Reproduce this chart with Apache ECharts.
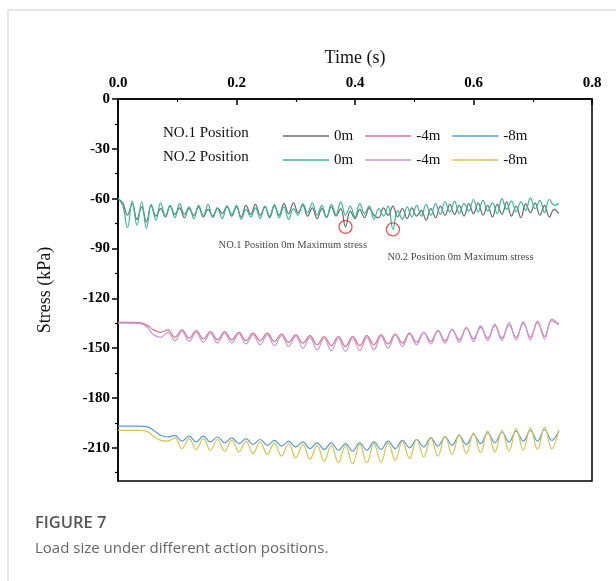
<!DOCTYPE html>
<html>
<head>
<meta charset="utf-8">
<script src="https://cdn.jsdelivr.net/npm/echarts@6/dist/echarts.min.js"></script>
<style>
  html, body { margin: 0; padding: 0; background: #fff; }
  #chart { width: 616px; height: 581px; }
</style>
</head>
<body>
<div id="chart"></div>
<script>
// time axis (s)
let timeFine = []    // 0m curves, 0.008 s step
for (let i = 0; i < 94; i++) timeFine.push(+(i * 0.008).toFixed(3))
let timeCoarse = []  // -4m / -8m curves, 0.012 s step
for (let i = 0; i < 63; i++) timeCoarse.push(+(i * 0.012).toFixed(3))

let no1_0m = [
  -60.0, -62.5, -70.0, -63.0, -72.5, -65.0, -74.0, -64.0, -70.5, -66.0,
  -71.0, -64.5, -69.5, -65.5, -71.5, -66.0, -70.0, -65.0, -71.0, -66.5,
  -70.5, -65.5, -69.0, -64.5, -70.5, -65.0, -71.0, -64.0, -69.5, -63.5,
  -70.0, -65.0, -71.5, -64.5, -70.0, -63.0, -69.0, -62.5, -68.5, -64.0,
  -70.5, -65.5, -72.0, -66.0, -71.0, -65.0, -70.5, -66.0, -77.0, -67.5,
  -72.0, -66.5, -71.5, -65.5, -70.0, -71.5, -65.5, -70.0, -64.5, -71.0,
  -66.0, -72.0, -65.5, -70.5, -67.0, -73.0, -66.0, -71.5, -64.5, -70.0,
  -63.5, -69.5, -64.0, -70.5, -63.0, -69.0, -62.5, -70.0, -64.0, -71.0,
  -63.5, -69.5, -62.0, -70.5, -64.5, -71.5, -63.0, -68.5, -62.5, -70.0,
  -64.0, -71.0, -66.5, -69.0
]
let no2_0m = [
  -60.0, -64.0, -77.5, -61.5, -76.0, -62.0, -78.0, -63.5, -73.0, -62.5,
  -70.5, -64.0, -71.5, -63.0, -69.5, -65.0, -72.0, -64.0, -70.0, -63.5,
  -71.5, -66.0, -72.0, -65.0, -69.5, -64.0, -72.5, -66.5, -71.0, -65.5,
  -72.0, -64.5, -70.5, -63.5, -71.5, -65.0, -72.5, -66.0, -70.0, -63.0,
  -68.5, -62.5, -70.0, -64.0, -71.5, -63.5, -69.5, -62.0, -70.0, -64.5,
  -71.0, -63.0, -69.0, -64.5, -72.5, -66.0, -70.5, -64.5, -78.5, -67.0,
  -72.5, -65.0, -71.0, -64.0, -70.5, -63.5, -70.0, -63.0, -69.5, -62.0,
  -68.0, -61.5, -69.0, -63.0, -67.5, -60.5, -68.0, -61.0, -67.5, -62.5,
  -69.0, -60.0, -66.5, -61.5, -68.0, -62.0, -67.0, -59.5, -66.0, -61.0,
  -68.5, -60.5, -64.0, -63.0
]
let no1_4m = [
  -134.5, -134.5, -134.5, -134.7, -136.0, -139.0, -140.5, -139.0, -143.5, -139.0,
  -144.0, -139.5, -144.5, -140.0, -145.0, -140.0, -145.0, -140.5, -145.5, -141.0,
  -145.5, -141.0, -146.0, -141.5, -146.5, -142.0, -147.0, -142.5, -148.0, -143.0,
  -148.5, -143.0, -149.0, -143.0, -148.5, -142.5, -148.0, -142.0, -147.5, -141.5,
  -147.0, -141.0, -146.5, -140.5, -146.0, -139.5, -145.5, -139.0, -145.0, -138.0,
  -144.5, -137.5, -144.0, -136.5, -144.0, -136.0, -143.5, -135.0, -143.5, -134.5,
  -143.0, -133.5, -136.0
]
let no2_4m = [
  -135.0, -135.0, -135.0, -135.3, -137.0, -142.0, -143.5, -140.5, -145.5, -140.0,
  -146.0, -140.5, -146.5, -141.0, -147.0, -141.0, -147.0, -141.5, -147.5, -142.0,
  -148.0, -142.0, -148.5, -142.5, -149.0, -143.0, -150.0, -143.5, -151.0, -144.0,
  -151.5, -144.0, -152.0, -144.0, -151.5, -143.5, -151.0, -143.0, -150.0, -142.0,
  -149.0, -141.5, -148.0, -140.5, -147.5, -139.5, -147.0, -138.5, -146.5, -137.5,
  -146.0, -136.5, -145.5, -135.5, -145.5, -134.5, -145.0, -134.0, -145.0, -133.5,
  -144.5, -132.5, -135.5
]
let no1_8m = [
  -197.0, -197.0, -197.0, -197.0, -197.3, -199.5, -202.5, -203.5, -202.5, -206.0,
  -203.0, -206.5, -203.0, -206.5, -203.5, -207.0, -204.0, -207.5, -204.5, -208.0,
  -205.0, -208.5, -205.5, -209.0, -206.0, -209.5, -206.5, -210.5, -207.0, -211.0,
  -207.0, -211.5, -207.5, -212.0, -207.0, -211.5, -206.5, -211.0, -206.0, -210.5,
  -205.5, -210.0, -205.0, -209.5, -204.0, -209.0, -203.5, -208.5, -202.5, -208.0,
  -202.0, -207.5, -201.0, -207.0, -200.5, -206.5, -200.0, -206.0, -199.5, -206.0,
  -199.0, -205.5, -200.0
]
let no2_8m = [
  -199.5, -199.5, -199.5, -199.5, -200.0, -203.0, -205.5, -206.0, -204.0, -210.5,
  -204.5, -211.0, -204.5, -211.5, -205.0, -212.0, -205.5, -212.5, -206.0, -213.5,
  -206.5, -214.0, -207.0, -215.0, -207.5, -216.0, -208.0, -217.0, -208.5, -218.0,
  -208.5, -219.0, -208.5, -219.5, -208.0, -219.0, -207.5, -218.5, -207.0, -217.5,
  -206.0, -216.5, -205.0, -215.5, -204.0, -215.0, -203.0, -214.0, -202.0, -213.5,
  -201.0, -213.0, -200.0, -212.5, -199.5, -212.0, -198.5, -211.5, -198.0, -211.0,
  -197.5, -210.5, -199.0
]

// maximum stress marks
let maxPoints = [[0.384, -77.0], [0.464, -78.5]]
let notes = [
  {text: 'NO.1 Position 0m Maximum stress', at: [0.295, -88.3]},
  {text: 'N0.2 Position 0m Maximum stress', at: [0.578, -95.4]}
]

let yMajor = [0, -30, -60, -90, -120, -150, -180, -210]
let yMinor = [-15, -45, -75, -105, -135, -165, -195, -225]

let seriesDefs = [
  {name: 'NO.1 0m', x: timeFine, y: no1_0m, color: '#6a6a6a', legend: 0},
  {name: 'NO.1 -4m', x: timeCoarse, y: no1_4m, color: '#d9728f', legend: 0},
  {name: 'NO.1 -8m', x: timeCoarse, y: no1_8m, color: '#5b9bd5', legend: 0},
  {name: 'NO.2 0m', x: timeFine, y: no2_0m, color: '#37b89a', legend: 1},
  {name: 'NO.2 -4m', x: timeCoarse, y: no2_4m, color: '#c39bd8', legend: 1},
  {name: 'NO.2 -8m', x: timeCoarse, y: no2_8m, color: '#d4c44a', legend: 1}
]

const serif = '"Liberation Serif", "Times New Roman", serif'
const sans = '"Open Sans", "Noto Sans", sans-serif'

let series = seriesDefs.map(s => ({
  name: s.name,
  type: 'line',
  smooth: 0.4,
  symbol: 'none',
  data: s.x.map((t, i) => [t, s.y[i]]),
  lineStyle: {color: s.color, width: 1.2},
  itemStyle: {color: s.color},
  z: s.name.indexOf('0m') > 0 ? 3 : 2
}))

series.push({
  type: 'scatter',
  data: maxPoints,
  symbol: 'circle',
  symbolSize: 13,
  itemStyle: {color: 'rgba(0,0,0,0)', borderColor: '#e03030', borderWidth: 1.3},
  silent: true,
  z: 5
})
series.push({
  type: 'scatter',
  data: notes.map(n => ({value: n.at, label: {formatter: n.text}})),
  symbolSize: 0,
  label: {show: true, position: 'inside', color: '#111', fontFamily: serif, fontSize: 10.5},
  silent: true,
  z: 5
})

function legendOf(idx, top) {
  return {
    data: seriesDefs.filter(s => s.legend === idx).map(s => s.name),
    left: 278,
    top: top,
    icon: 'rect',
    itemWidth: 46,
    itemHeight: 1.5,
    itemGap: 12,
    formatter: n => n.split(' ')[1],
    textStyle: {fontFamily: serif, fontSize: 15, color: '#111', lineHeight: 18}
  }
}

let option = {
  animation: false,
  backgroundColor: '#fff',
  grid: {left: 118, right: 24, top: 99, bottom: 100, show: true, borderColor: '#000', borderWidth: 1.5},
  legend: [legendOf(0, 122), legendOf(1, 146)],
  xAxis: {
    type: 'value',
    position: 'top',
    min: 0,
    max: 0.8,
    interval: 0.2,
    name: 'Time (s)',
    nameLocation: 'middle',
    nameGap: 32,
    nameMoveOverlap: false,
    nameTextStyle: {fontFamily: serif, fontSize: 18, color: '#111'},
    axisLine: {show: true, lineStyle: {color: '#000', width: 1.5}},
    axisTick: {show: true, inside: true, length: 6, lineStyle: {color: '#000', width: 1.5}},
    minorTick: {show: true, splitNumber: 2, length: 3, lineStyle: {color: '#000', width: 1.2}},
    splitLine: {show: false},
    axisLabel: {
      formatter: v => v.toFixed(1),
      fontFamily: serif, fontSize: 15, fontWeight: 'bold', color: '#000', margin: 8
    }
  },
  yAxis: [
    {
      type: 'value',
      min: -230,
      max: 0,
      name: 'Stress (kPa)',
      nameLocation: 'middle',
      nameGap: 64,
      nameMoveOverlap: false,
      nameTextStyle: {fontFamily: serif, fontSize: 18, color: '#111'},
      axisLine: {show: true, lineStyle: {color: '#000', width: 1.5}},
      axisTick: {show: true, customValues: yMajor, length: 6, lineStyle: {color: '#000', width: 1.5}},
      splitLine: {show: false},
      axisLabel: {
        customValues: yMajor,
        fontFamily: serif, fontSize: 15, fontWeight: 'bold', color: '#000', margin: 8
      }
    },
    {
      type: 'value',
      min: -230,
      max: 0,
      position: 'left',
      axisLine: {show: false},
      axisTick: {show: true, customValues: yMinor, length: 3, lineStyle: {color: '#000', width: 1.2}},
      axisLabel: {show: false},
      splitLine: {show: false}
    }
  ],
  graphic: [
    {type: 'line', shape: {x1: 8, y1: 10, x2: 616, y2: 10}, style: {stroke: '#cfcfcf', lineWidth: 1}},
    {type: 'line', shape: {x1: 8, y1: 10, x2: 8, y2: 581}, style: {stroke: '#cfcfcf', lineWidth: 1}},
    {type: 'text', left: 163, top: 126, style: {text: 'NO.1 Position', font: '15px ' + serif, fill: '#111'}},
    {type: 'text', left: 163, top: 150, style: {text: 'NO.2 Position', font: '15px ' + serif, fill: '#111'}},
    {type: 'text', left: 35, top: 515, style: {text: 'FIGURE 7', font: '600 16.5px ' + sans, fill: '#555'}},
    {type: 'text', left: 35, top: 541, style: {text: 'Load size under different action positions.', font: '15px ' + sans, fill: '#666'}}
  ],
  series: series
}

let chart = echarts.init(document.getElementById('chart'))
chart.setOption(option)
</script>
</body>
</html>
